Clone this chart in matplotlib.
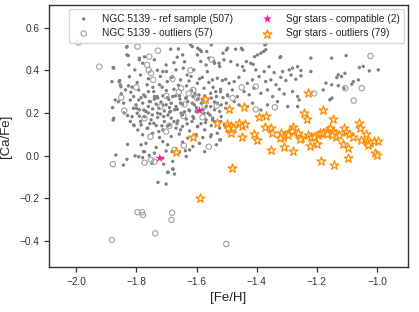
import matplotlib
matplotlib.use("Agg")
import matplotlib.pyplot as plt
import seaborn as sns
import numpy as np

# ---------------- data ----------------
ref_pts = [
    # left / upper cloud
    (-1.831,0.511),(-1.686,0.499),(-1.614,0.511),(-1.589,0.496),(-1.566,0.488),
    (-1.875,0.410),(-1.831,0.472),(-1.825,0.425),(-1.675,0.436),(-1.664,0.461),(-1.597,0.472),(-1.586,0.441),(-1.559,0.457),
    (-1.855,0.352),(-1.805,0.402),(-1.786,0.378),(-1.720,0.371),(-1.700,0.394),(-1.684,0.367),(-1.644,0.410),(-1.631,0.378),(-1.609,0.402),(-1.581,0.367),(-1.564,0.394),
    (-1.881,0.347),(-1.853,0.332),(-1.836,0.308),(-1.814,0.321),(-1.797,0.343),(-1.764,0.332),(-1.742,0.300),(-1.714,0.321),(-1.697,0.347),(-1.675,0.311),(-1.653,0.355),(-1.633,0.327),(-1.617,0.305),(-1.597,0.339),(-1.575,0.316),(-1.559,0.343),
    (-1.870,0.261),(-1.842,0.246),(-1.809,0.277),(-1.792,0.261),(-1.775,0.285),(-1.753,0.253),(-1.731,0.277),(-1.711,0.238),(-1.692,0.264),(-1.670,0.280),(-1.653,0.246),(-1.636,0.269),(-1.614,0.246),(-1.592,0.285),(-1.564,0.261),
    (-1.875,0.175),(-1.809,0.222),(-1.797,0.199),(-1.775,0.214),(-1.747,0.191),(-1.725,0.222),(-1.709,0.183),(-1.686,0.207),(-1.664,0.217),(-1.647,0.191),(-1.625,0.214),(-1.609,0.175),(-1.575,0.199),
    (-1.809,0.144),(-1.786,0.160),(-1.764,0.128),(-1.742,0.152),(-1.725,0.113),(-1.697,0.139),(-1.675,0.160),(-1.653,0.121),(-1.631,0.149),(-1.597,0.136),(-1.570,0.155),
    (-1.832,0.508),(-1.827,0.469),(-1.877,0.413),(-1.823,0.370),(-1.857,0.347),(-1.851,0.323),(-1.826,0.327),(-1.792,0.308),(-1.818,0.297),(-1.790,0.449),
    (-1.879,0.225),(-1.859,0.253),(-1.829,0.188),(-1.814,0.183),(-1.877,0.167),(-1.807,0.141),(-1.801,0.238),(-1.799,0.222),
    (-1.829,0.053),(-1.868,0.003),(-1.831,-0.017),(-1.843,-0.044),(-1.804,-0.001),(-1.792,-0.005),
    (-1.776,0.019),(-1.748,-0.036),(-1.709,-0.040),(-1.728,-0.125),(-1.701,-0.133),(-1.694,-0.078),(-1.678,-0.064),(-1.673,-0.086),(-1.681,0.019),(-1.637,0.023),
    # dense central block
    (-1.784,0.272),(-1.770,0.277),(-1.740,0.277),(-1.729,0.270),(-1.712,0.280),(-1.696,0.272),(-1.679,0.277),(-1.657,0.280),(-1.634,0.272),(-1.612,0.277),(-1.596,0.266),(-1.573,0.280),(-1.551,0.270),(-1.534,0.277),(-1.512,0.272),(-1.496,0.280),
    (-1.779,0.246),(-1.757,0.254),(-1.734,0.241),(-1.718,0.251),(-1.701,0.238),(-1.684,0.246),(-1.668,0.230),(-1.646,0.241),(-1.629,0.254),(-1.607,0.238),(-1.584,0.246),(-1.568,0.230),(-1.540,0.251),(-1.518,0.238),(-1.501,0.246),
    (-1.790,0.215),(-1.768,0.207),(-1.746,0.219),(-1.729,0.199),(-1.707,0.210),(-1.690,0.204),(-1.673,0.215),(-1.651,0.199),(-1.623,0.210),(-1.601,0.207),(-1.579,0.215),(-1.562,0.199),(-1.540,0.215),(-1.523,0.207),
    (-1.773,0.183),(-1.751,0.168),(-1.729,0.179),(-1.707,0.160),(-1.684,0.176),(-1.662,0.163),(-1.634,0.172),(-1.612,0.183),(-1.568,0.168),(-1.546,0.176),(-1.518,0.183),
    (-1.784,0.144),(-1.762,0.129),(-1.734,0.141),(-1.712,0.121),(-1.690,0.144),(-1.668,0.129),(-1.646,0.137),(-1.623,0.116),(-1.596,0.137),(-1.573,0.121),(-1.551,0.141),(-1.523,0.129),(-1.507,0.144),
    (-1.779,0.098),(-1.746,0.105),(-1.723,0.085),(-1.684,0.090),(-1.657,0.101),(-1.629,0.082),(-1.601,0.098),(-1.579,0.085),(-1.551,0.098),(-1.523,0.074),
    (-1.784,0.051),(-1.768,0.058),(-1.734,0.038),(-1.712,0.066),(-1.696,0.051),(-1.646,0.063),(-1.612,0.043),(-1.590,0.058),(-1.534,0.051),
    (-1.773,0.019),(-1.740,0.012),(-1.701,0.022),(-1.657,0.016),(-1.623,0.027),(-1.573,0.019),
    (-1.779,-0.009),(-1.757,0.001),(-1.712,-0.012),(-1.679,-0.027),(-1.634,-0.004),
    (-1.696,-0.078),(-1.679,-0.062),
    # extra dense fill
    (-1.760,0.300),(-1.745,0.320),(-1.700,0.305),(-1.660,0.330),(-1.625,0.350),(-1.590,0.360),(-1.545,0.320),(-1.520,0.300),
    (-1.850,0.290),(-1.820,0.260),(-1.760,0.230),(-1.740,0.265),(-1.690,0.225),(-1.655,0.265),(-1.605,0.290),(-1.580,0.262),
    (-1.840,0.200),(-1.790,0.185),(-1.760,0.200),(-1.720,0.195),(-1.695,0.190),(-1.640,0.205),(-1.600,0.225),(-1.555,0.190),
    (-1.820,0.160),(-1.795,0.120),(-1.755,0.150),(-1.715,0.140),(-1.665,0.150),(-1.615,0.160),(-1.585,0.150),(-1.540,0.160),
    # upper middle
    (-1.790,0.457),(-1.773,0.463),(-1.740,0.449),(-1.779,0.433),(-1.701,0.425),(-1.646,0.472),(-1.584,0.488),(-1.551,0.519),(-1.512,0.480),(-1.501,0.495),
    (-1.596,0.503),(-1.712,0.394),(-1.668,0.402),(-1.618,0.371),(-1.568,0.425),(-1.540,0.433),(-1.523,0.418),(-1.723,0.332),(-1.760,0.360),(-1.680,0.370),
    (-1.640,0.440),(-1.620,0.520),(-1.660,0.500),(-1.730,0.400),
    # right cloud
    (-1.497,0.503),(-1.470,0.499),(-1.447,0.496),(-1.397,0.472),(-1.386,0.480),(-1.377,0.488),(-1.370,0.496),(-1.320,0.464),(-1.220,0.457),(-1.370,0.522),
    (-1.451,0.503),(-1.373,0.519),(-1.407,0.464),(-1.323,0.460),(-1.434,0.441),(-1.412,0.428),
    (-1.542,0.441),(-1.525,0.433),(-1.509,0.449),(-1.486,0.441),(-1.464,0.425),(-1.447,0.417),(-1.442,0.399),(-1.420,0.433),(-1.403,0.402),(-1.375,0.394),(-1.359,0.417),(-1.342,0.389),(-1.314,0.394),(-1.292,0.402),(-1.281,0.410),(-1.264,0.417),(-1.253,0.399),(-1.220,0.394),
    (-1.547,0.355),(-1.531,0.363),(-1.514,0.352),(-1.503,0.358),(-1.492,0.339),(-1.475,0.347),(-1.459,0.367),(-1.431,0.339),(-1.414,0.355),(-1.392,0.371),(-1.370,0.347),(-1.353,0.355),(-1.336,0.332),(-1.320,0.367),(-1.303,0.352),(-1.286,0.378),(-1.270,0.358),(-1.253,0.374),
    (-1.553,0.292),(-1.536,0.300),(-1.520,0.311),(-1.497,0.285),(-1.481,0.308),(-1.464,0.277),(-1.442,0.300),(-1.425,0.285),(-1.409,0.316),(-1.386,0.292),(-1.364,0.308),(-1.347,0.277),(-1.325,0.311),(-1.309,0.289),(-1.281,0.300),(-1.264,0.277),(-1.259,0.261),
    (-1.553,0.230),(-1.531,0.246),(-1.503,0.222),(-1.475,0.253),(-1.459,0.238),(-1.431,0.230),(-1.414,0.246),(-1.386,0.214),(-1.364,0.238),(-1.331,0.253),(-1.297,0.230),(-1.264,0.230),
    (-1.547,0.167),(-1.520,0.160),(-1.531,0.105),(-1.553,0.089),(-1.520,0.074),
    (-1.151,0.457),(-1.103,0.469),(-1.059,0.413),(-1.046,0.418),(-1.026,0.397),(-0.996,0.402),(-1.129,0.379),(-1.118,0.371),(-1.107,0.386),(-1.134,0.366),
    (-1.170,0.340),(-1.151,0.332),(-1.129,0.328),(-1.084,0.335),(-1.079,0.347),(-1.062,0.355),(-1.179,0.308),(-1.110,0.316),(-1.157,0.262),(-1.150,0.270),
]

outlier_pts = [
    (-1.992,0.530),(-1.923,0.417),(-1.850,0.272),(-1.840,0.211),(-1.796,0.511),(-1.764,0.425),(-1.759,0.402),
    (-1.728,0.492),(-1.744,0.355),(-1.659,0.299),(-1.644,0.186),(-1.773,0.175),(-1.753,0.089),(-1.673,0.027),
    (-1.642,0.047),(-1.626,0.292),(-1.611,0.308),(-1.598,0.269),(-1.573,0.233),(-1.559,0.042),(-1.870,0.605),
    (-1.878,-0.040),(-1.773,-0.033),(-1.751,-0.020),(-1.740,-0.028),(-1.796,-0.265),(-1.781,-0.265),(-1.778,-0.278),
    (-1.681,-0.267),(-1.683,-0.301),(-1.737,-0.364),(-1.881,-0.395),(-1.501,-0.414),(-1.022,0.467),(-1.106,0.316),
    (-1.051,0.316),(-1.078,0.258),(-1.209,0.292),(-1.403,0.217),(-1.340,0.227),(-1.533,0.233),(-1.403,0.324),
    (-1.701,0.113),(-1.757,0.464),(-1.751,0.386),(-1.651,0.316),(-1.700,0.280),(-1.680,0.360),(-1.620,0.400),
    (-1.550,0.450),(-1.800,0.320),(-1.580,0.180),(-1.480,0.270),(-1.640,0.240),(-1.720,0.230),(-1.690,0.140),
    (-1.450,0.320),
]

sgr_compat = [(-1.590,0.211),(-1.722,-0.012)]

sgr_outliers = [
    (-1.231,0.295),(-1.492,0.219),(-1.442,0.227),(-1.179,0.214),(-1.242,0.199),(-1.394,0.183),(-1.370,0.186),
    (-1.234,0.172),(-1.148,0.171),(-1.533,0.155),(-1.500,0.149),(-1.487,0.139),(-1.459,0.155),(-1.450,0.139),
    (-1.439,0.149),(-1.489,0.120),(-1.487,0.105),(-1.372,0.136),(-1.351,0.128),(-1.348,0.108),(-1.448,0.089),
    (-1.409,0.102),(-1.400,0.074),(-1.320,0.108),(-1.314,0.089),(-1.322,0.084),(-1.292,0.113),(-1.278,0.136),
    (-1.284,0.117),(-1.262,0.105),(-1.253,0.082),(-1.231,0.097),(-1.220,0.089),(-1.209,0.086),(-1.198,0.097),
    (-1.190,0.108),(-1.181,0.105),(-1.164,0.120),(-1.156,0.128),(-1.148,0.117),(-1.142,0.105),(-1.137,0.089),
    (-1.111,0.128),(-1.103,0.113),(-1.094,0.100),(-1.079,0.086),(-1.061,0.152),(-1.057,0.131),(-1.037,0.100),
    (-1.033,0.066),(-1.022,0.061),(-1.009,0.070),(-0.998,0.069),(-1.031,0.050),(-1.006,0.014),(-1.001,0.003),
    (-1.353,0.027),(-1.309,0.042),(-1.278,0.023),(-1.256,0.077),(-1.222,0.045),(-1.200,0.055),(-1.098,0.035),
    (-1.481,-0.056),(-1.187,-0.023),(-1.144,-0.042),(-1.098,-0.011),(-1.667,0.016),(-1.587,-0.200),(-1.573,0.266),
    (-1.611,0.089),(-1.112,0.053),(-1.151,0.097),(-1.127,0.095),(-1.495,0.130),(-1.478,0.128),(-1.055,0.075),
    (-1.165,0.100),(-1.296,0.098),
]

labels = ["NGC 5139 - ref sample (507)", "NGC 5139 - outliers (57)",
          "Sgr stars - compatible (2)", "Sgr stars - outliers (79)"]
xlabel = "[Fe/H]"
ylabel = "[Ca/Fe]"
xticks = [-2.0, -1.8, -1.6, -1.4, -1.2, -1.0]
yticks = [-0.4, -0.2, 0.0, 0.2, 0.4, 0.6]

# ---------------- plotting ----------------
sns.set_theme(style="ticks")
plt.rcParams['font.family'] = ['Liberation Sans', 'DejaVu Sans']

fig = plt.figure(figsize=(4.19, 3.12), dpi=100)
ax = fig.add_axes([0.117, 0.144, 0.857, 0.840])

r = np.array(ref_pts); o = np.array(outlier_pts)
c = np.array(sgr_compat); s = np.array(sgr_outliers)

ax.scatter(r[:, 0], r[:, 1], s=6, color='#808080', edgecolors='none', label=labels[0], zorder=2)
ax.scatter(o[:, 0], o[:, 1], s=15, facecolors='none', edgecolors='#a0a0a0', linewidths=0.8, label=labels[1], zorder=2)
ax.scatter(c[:, 0], c[:, 1], s=45, marker='*', color='#ff1493', edgecolors='none', label=labels[2], zorder=4)
ax.scatter(s[:, 0], s[:, 1], s=45, marker='*', facecolors='#fff4e6', edgecolors='#ff8c00', linewidths=0.9, label=labels[3], zorder=3)

ax.set_xlim(-2.09, -0.897)
ax.set_ylim(-0.522, 0.706)
ax.set_xticks(xticks)
ax.set_yticks(yticks)
ax.set_xticklabels([f"{v:.1f}".replace('-', '\u2212') for v in xticks])
ax.set_yticklabels([f"{v:.1f}".replace('-', '\u2212') for v in yticks])
ax.tick_params(labelsize=7.3, length=3.5, width=0.9, colors='#333333')
for sp in ax.spines.values():
    sp.set_color('#333333')
    sp.set_linewidth(1.0)
ax.set_xlabel(xlabel, fontsize=9.5, color='#222222', labelpad=4)
ax.set_ylabel(ylabel, fontsize=9.5, color='#222222', labelpad=5)

leg = ax.legend(loc='upper right', ncol=2, fontsize=7.3, frameon=True,
                handletextpad=0.8, columnspacing=2.4, borderpad=0.45,
                labelspacing=0.45, scatterpoints=1, borderaxespad=0.4)
leg.get_frame().set_edgecolor('#cccccc')

fig.savefig("out.png", dpi=100)
